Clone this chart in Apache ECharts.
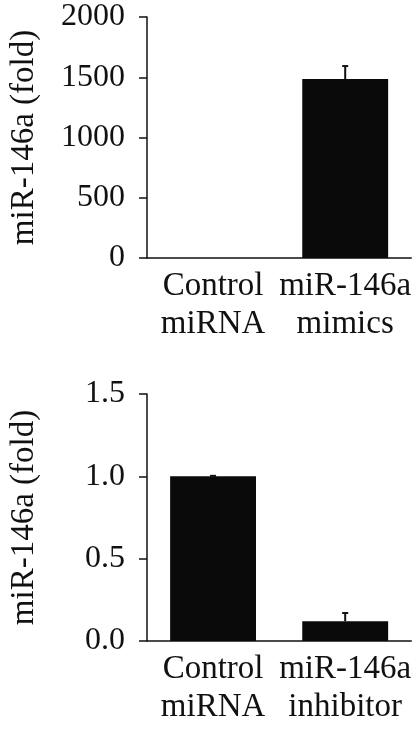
<!DOCTYPE html>
<html>
<head>
<meta charset="utf-8">
<script src="https://cdn.jsdelivr.net/npm/echarts@6/dist/echarts.min.js"></script>
<style>
html,body{margin:0;padding:0;background:#fff;}
#chart{width:413px;height:730px;}
</style>
</head>
<body>
<div id="chart"></div>
<script>
// Data
var categoriesTop = ['Control\nmiRNA', 'miR-146a\nmimics'];
var valuesTop = [1, 1485];
var errorsTop = [0, 108];
var categoriesBottom = ['Control\nmiRNA', 'miR-146a\ninhibitor'];
var valuesBottom = [1.0, 0.12];
var errorsBottom = [0.003, 0.05];
var yTitle = 'miR-146a (fold)';

var FONT = '"Liberation Serif", "DejaVu Serif", serif';
var TXT = '#111';

function errSeries(xi, yi, vals, errs) {
  return {
    type: 'custom',
    xAxisIndex: xi, yAxisIndex: yi,
    data: vals.map(function (v, i) { return [i, v, v + errs[i]]; }),
    z: 5,
    renderItem: function (params, api) {
      if (api.value(2) === api.value(1)) return null;
      var p0 = api.coord([api.value(0), api.value(1)]);
      var p1 = api.coord([api.value(0), api.value(2)]);
      var hw = 3;
      return {
        type: 'group',
        children: [
          { type: 'line', shape: { x1: p0[0], y1: p0[1], x2: p1[0], y2: p1[1] }, style: { stroke: '#111', lineWidth: 2 } },
          { type: 'line', shape: { x1: p1[0] - hw, y1: p1[1], x2: p1[0] + hw, y2: p1[1] }, style: { stroke: '#111', lineWidth: 2 } }
        ]
      };
    }
  };
}

function yAxis(gi, max, interval, decimals) {
  return {
    type: 'value', gridIndex: gi, min: 0, max: max, interval: interval,
    name: yTitle, nameLocation: 'middle', nameGap: 106, nameRotate: 90,
    nameTextStyle: { fontFamily: FONT, fontSize: 33, color: TXT },
    axisLine: { show: true, lineStyle: { color: '#111', width: 1.5 } },
    axisTick: { show: true, inside: false, length: 8, lineStyle: { color: '#111', width: 1.5 } },
    splitLine: { show: false },
    axisLabel: {
      margin: 22, fontFamily: FONT, fontSize: 32, color: TXT,
      formatter: function (v) { return decimals ? v.toFixed(decimals) : String(v); }
    }
  };
}

function xAxis(gi, cats) {
  return {
    type: 'category', gridIndex: gi, data: cats,
    axisLine: { show: true, lineStyle: { color: '#111', width: 1.5 } },
    axisTick: { show: false },
    axisLabel: { margin: 9, fontFamily: FONT, fontSize: 33, color: TXT, lineHeight: 38, interval: 0 }
  };
}

var chart = echarts.init(document.getElementById('chart'), null, { renderer: 'canvas' });
chart.setOption({
  animation: false,
  backgroundColor: '#fff',
  grid: [
    { left: 144, top: 17, width: 269, height: 241 },
    { left: 144, top: 394, width: 269, height: 247 }
  ],
  xAxis: [xAxis(0, categoriesTop), xAxis(1, categoriesBottom)],
  yAxis: [yAxis(0, 2000, 500, 0), yAxis(1, 1.5, 0.5, 1)],
  series: [
    { type: 'bar', xAxisIndex: 0, yAxisIndex: 0, data: valuesTop, barWidth: '65%', itemStyle: { color: '#0a0a0a' } },
    errSeries(0, 0, valuesTop, errorsTop),
    { type: 'bar', xAxisIndex: 1, yAxisIndex: 1, data: valuesBottom, barWidth: '65%', itemStyle: { color: '#0a0a0a' } },
    errSeries(1, 1, valuesBottom, errorsBottom)
  ]
});
</script>
</body>
</html>
